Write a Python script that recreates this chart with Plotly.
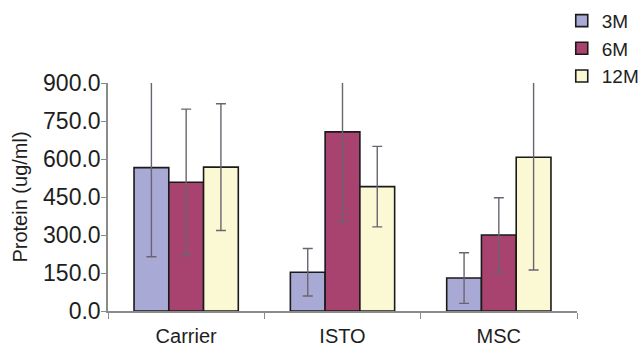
import plotly.graph_objects as go

categories = ["Carrier", "ISTO", "MSC"]
series_names = ["3M", "6M", "12M"]
values_3m = [566, 153, 130]
values_6m = [508, 707, 300]
values_12m = [568, 491, 607]
err_3m = [352, 94, 100]
err_6m = [289, 354, 147]
err_12m = [250, 159, 445]
y_ticks = [0, 150, 300, 450, 600, 750, 900]

colors = ["#a9a9d6", "#a8426f", "#fbf9d4"]
values = [values_3m, values_6m, values_12m]
errors = [err_3m, err_6m, err_12m]

fig = go.Figure()
for name, v, e, c in zip(series_names, values, errors, colors):
    fig.add_trace(go.Bar(
        x=categories, y=v, name=name,
        marker=dict(color=c, line=dict(color="#1a1a1a", width=1.6)),
        error_y=dict(type="data", array=e, visible=True, color="#6b6470",
                     thickness=1.4, width=5),
    ))

fig.update_layout(
    width=642, height=349,
    barmode="group", bargap=0.333, bargroupgap=0,
    plot_bgcolor="white", paper_bgcolor="white",
    margin=dict(l=108, r=65, t=83, b=38, autoexpand=False),
    font=dict(family="Liberation Sans, Arial, sans-serif", color="#1e1e1e", size=20),
    showlegend=True,
    legend=dict(xref="container", yref="container", x=0.875, y=0.995,
                xanchor="left", yanchor="top",
                font=dict(size=19), itemwidth=30, tracegroupgap=0,
                bgcolor="rgba(0,0,0,0)"),
)
fig.update_yaxes(
    range=[0, 900], tickvals=y_ticks, tickformat=".1f",
    showline=True, linecolor="#8a8a8a", linewidth=1.5,
    ticks="outside", ticklen=5, tickcolor="#8a8a8a",
    showgrid=False, zeroline=False,
    tickfont=dict(size=23), ticklabelstandoff=-4,
    title=dict(text="Protein (ug/ml)", font=dict(size=20), standoff=10),
)
fig.update_xaxes(
    showline=True, linecolor="#8a8a8a", linewidth=1.5,
    ticks="outside", ticklen=6, tickcolor="#8a8a8a", tickson="boundaries",
    showgrid=False, tickfont=dict(size=20), ticklabelstandoff=6,
)

fig.write_html("out.html", config={"displayModeBar": False},
               post_script="document.body.style.margin='0';")
